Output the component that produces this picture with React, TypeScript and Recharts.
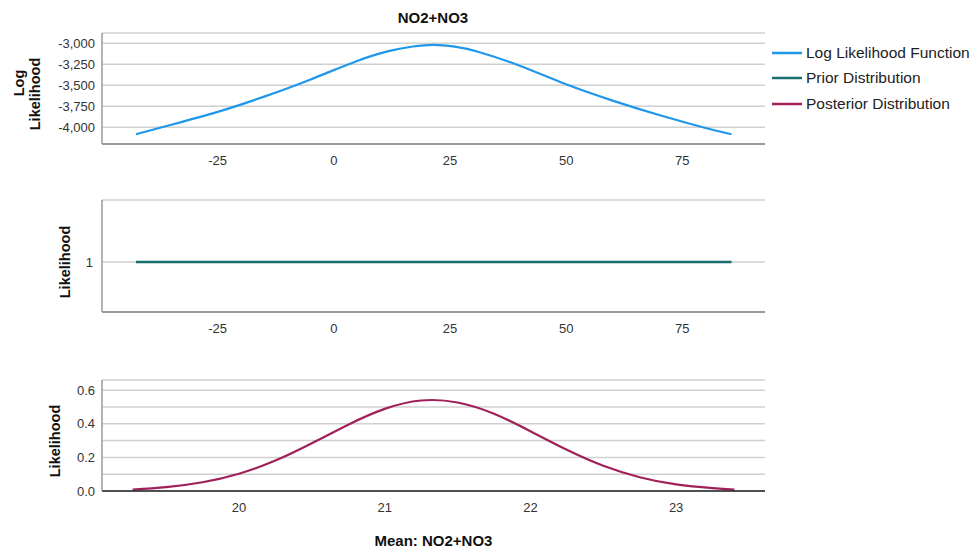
import React from 'react';
import { LineChart, Line, XAxis, YAxis, CartesianGrid, Legend } from 'recharts';

// ---- data ----
const meanX = [-42.6, -35, -25, -15, -5, 5, 12, 17, 21.5, 26, 31, 40, 50, 60, 70, 80, 85.6];
const logLikValues = [-4083, -3970, -3816, -3635, -3430, -3210, -3090, -3038, -3018, -3040, -3100, -3267, -3488, -3682, -3854, -4008, -4083];
const priorValues = [1, 1, 1, 1, 1, 1, 1, 1, 1, 1, 1, 1, 1, 1, 1, 1, 1];
const postX = [19.27, 19.5, 19.75, 20.0, 20.25, 20.5, 20.75, 21.0, 21.25, 21.5, 21.75, 22.0, 22.25, 22.5, 22.75, 23.0, 23.25, 23.4];
const postValues = [0.008, 0.023, 0.052, 0.103, 0.181, 0.284, 0.395, 0.489, 0.539, 0.527, 0.46, 0.356, 0.245, 0.15, 0.082, 0.039, 0.017, 0.008];

const topXTicks = [-25, 0, 25, 50, 75];
const topYTicks = [-4000, -3750, -3500, -3250, -3000];
const midYTicks = [1];
const botXTicks = [20, 21, 22, 23];
const botYTicks = [0, 0.1, 0.2, 0.3, 0.4, 0.5, 0.6];
const botYLabelled = [0, 0.2, 0.4, 0.6];

const seriesNames = ['Log Likelihood Function', 'Prior Distribution', 'Posterior Distribution'];
const seriesColors = ['#1f97ea', '#1b6e6e', '#a0205a'];

const titleText = 'NO2+NO3';
const xTitle = 'Mean: NO2+NO3';

// ---- tables ----
const topData = meanX.map((x, i) => ({ x, ll: logLikValues[i] }));
const midData = meanX.map((x, i) => ({ x, prior: priorValues[i] }));
const botData = postX.map((x, i) => ({ x, post: postValues[i] }));

const FONT = '"Liberation Sans", Arial, sans-serif';
const tickStyle = { fill: '#333', fontSize: 13, fontFamily: FONT };
const gridColor = '#d0d0d0';

const fmtThousands = (v: number) => v.toLocaleString('en-US');
const fmtBot = (v: number) => (botYLabelled.some((t) => Math.abs(t - v) < 1e-9) ? v.toFixed(1) : '');

function RotLabel({ items }: { items: { text: string; cx: number; cy: number }[] }) {
  return (
    <g>
      {items.map((it, i) => (
        <text
          key={i}
          x={it.cx}
          y={it.cy}
          transform={`rotate(-90 ${it.cx} ${it.cy})`}
          textAnchor="middle"
          dominantBaseline="central"
          fontFamily={FONT}
          fontWeight="bold"
          fontSize={14.5}
          fill="#111"
        >
          {it.text}
        </text>
      ))}
    </g>
  );
}

function LegendContent() {
  return (
    <div style={{ fontFamily: FONT, fontSize: 15.5, color: '#222' }}>
      {seriesNames.map((n, i) => (
        <div key={n} style={{ display: 'flex', alignItems: 'center', height: 25.5, whiteSpace: 'nowrap' }}>
          <svg width={36} height={10} style={{ flex: 'none' }}>
            <line x1={2} y1={5} x2={32} y2={5} stroke={seriesColors[i]} strokeWidth={2.5} />
          </svg>
          <span>{n}</span>
        </div>
      ))}
    </div>
  );
}

export default function App() {
  return (
    <div style={{ position: 'fixed', left: 0, top: 0, width: 978, height: 553, background: '#fff', overflow: 'hidden' }}>
      <div
        style={{
          position: 'absolute',
          left: 333,
          width: 200,
          top: 8,
          lineHeight: '19px',
          textAlign: 'center',
          fontFamily: FONT,
          fontWeight: 'bold',
          fontSize: 15,
          color: '#111',
        }}
      >
        {titleText}
      </div>

      {/* top panel */}
      <div style={{ position: 'absolute', left: 0, top: 0 }}>
        <LineChart width={978} height={170} data={topData} margin={{ top: 33, right: 213, bottom: 0, left: 42 }}>
          <CartesianGrid vertical={false} stroke={gridColor} strokeWidth={1.5} />
          <XAxis
            type="number"
            dataKey="x"
            domain={[-49.9, 92.8]}
            ticks={topXTicks}
            interval={0}
            height={26}
            tickLine={false}
            tickSize={10}
            tickMargin={2}
            axisLine={{ stroke: '#888', strokeWidth: 1.5 }}
            tick={tickStyle}
          />
          <YAxis
            type="number"
            domain={[-4199, -2877]}
            ticks={topYTicks}
            interval={0}
            width={60}
            tickLine={false}
            tickSize={5}
            tickMargin={2}
            axisLine={{ stroke: '#999', strokeWidth: 1.5 }}
            tick={tickStyle}
            tickFormatter={fmtThousands}
            label={() => (
              <RotLabel
                items={[
                  { text: 'Log', cx: 18.5, cy: 83 },
                  { text: 'Likelihood', cx: 35, cy: 94 },
                ]}
              />
            )}
          />
          <Line
            type="natural"
            dataKey="ll"
            name={seriesNames[0]}
            stroke={seriesColors[0]}
            strokeWidth={2.2}
            dot={false}
            isAnimationActive={false}
          />
          <Legend
            layout="horizontal"
            verticalAlign="middle"
            align="center"
            content={<LegendContent />}
            wrapperStyle={{ left: 770, top: 40, width: 208 }}
          />
        </LineChart>
      </div>

      {/* middle panel */}
      <div style={{ position: 'absolute', left: 0, top: 170 }}>
        <LineChart width={978} height={170} data={midData} margin={{ top: 30, right: 213, bottom: 2, left: 42 }}>
          <CartesianGrid vertical={false} stroke={gridColor} strokeWidth={1.5} />
          <XAxis
            type="number"
            dataKey="x"
            domain={[-49.9, 92.8]}
            ticks={topXTicks}
            interval={0}
            height={26}
            tickLine={false}
            tickSize={10}
            tickMargin={2}
            axisLine={{ stroke: '#888', strokeWidth: 1.5 }}
            tick={tickStyle}
          />
          <YAxis
            type="number"
            domain={[0.5, 1.62]}
            ticks={midYTicks}
            interval={0}
            width={60}
            tickLine={false}
            tickSize={7}
            tickMargin={2}
            axisLine={{ stroke: '#999', strokeWidth: 1.5 }}
            tick={tickStyle}
            label={() => <RotLabel items={[{ text: 'Likelihood', cx: 65, cy: 92 }]} />}
          />
          <Line
            type="linear"
            dataKey="prior"
            name={seriesNames[1]}
            stroke={seriesColors[1]}
            strokeWidth={2.6}
            dot={false}
            isAnimationActive={false}
          />
        </LineChart>
      </div>

      {/* bottom panel */}
      <div style={{ position: 'absolute', left: 0, top: 345 }}>
        <LineChart width={978} height={208} data={botData} margin={{ top: 35, right: 213, bottom: 7, left: 42 }}>
          <CartesianGrid vertical={false} stroke={gridColor} strokeWidth={1.5} />
          <XAxis
            type="number"
            dataKey="x"
            domain={[19.06, 23.61]}
            ticks={botXTicks}
            interval={0}
            height={55}
            tickLine={false}
            tickSize={10}
            tickMargin={2}
            axisLine={{ stroke: '#222', strokeWidth: 1.5 }}
            tick={tickStyle}
            label={{
              value: xTitle,
              position: 'insideBottom',
              offset: 0,
              style: { fontFamily: FONT, fontWeight: 'bold', fontSize: 15, fill: '#111' },
            }}
          />
          <YAxis
            type="number"
            domain={[0, 0.661]}
            ticks={botYTicks}
            interval={0}
            width={60}
            tickLine={false}
            tickSize={5}
            tickMargin={2}
            axisLine={{ stroke: '#999', strokeWidth: 1.5 }}
            tick={tickStyle}
            tickFormatter={fmtBot}
            label={() => <RotLabel items={[{ text: 'Likelihood', cx: 54.5, cy: 96 }]} />}
          />
          <Line
            type="natural"
            dataKey="post"
            name={seriesNames[2]}
            stroke={seriesColors[2]}
            strokeWidth={2.2}
            dot={false}
            isAnimationActive={false}
          />
        </LineChart>
      </div>
    </div>
  );
}
